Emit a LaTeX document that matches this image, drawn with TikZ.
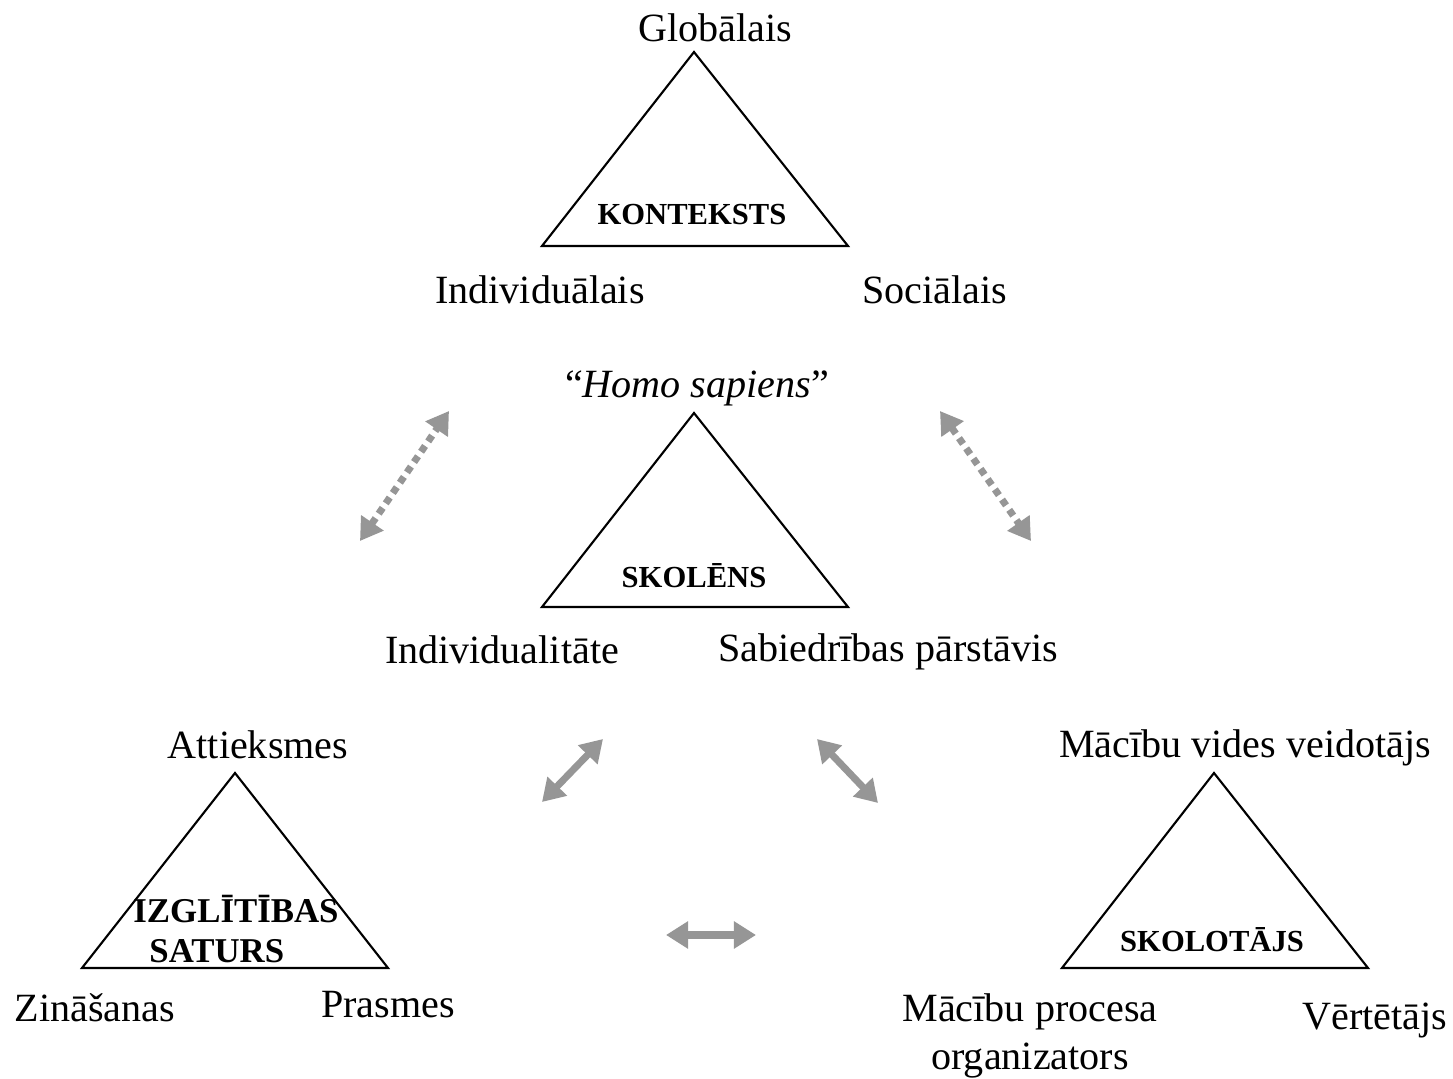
\documentclass[tikz,border=0pt]{standalone}
\usepackage{fontspec}
\setmainfont{Liberation Serif}
\usetikzlibrary{arrows.meta}
\definecolor{arrGray}{RGB}{150,150,150}

\begin{document}
\begin{tikzpicture}[x=0.01cm,y=-0.01cm,
  every node/.style={font=\fontsize{11.4}{13}\selectfont,align=center,inner sep=0pt},
  lbl/.style={font=\bfseries\fontsize{8.7}{10.5}\selectfont},
  tri/.style={draw,line width=0.6pt,line join=miter},
  link/.style={arrGray,line width=0.7mm,{Triangle[length=2.2mm,width=2.6mm]}-{Triangle[length=2.2mm,width=2.6mm]}},
  dotlink/.style={link,dash pattern=on 0.7mm off 0.55mm}]
\useasboundingbox (0,0) rectangle (1453,1079);
% context triangle
\coordinate (ka) at (694,52);
\coordinate (kl) at (542,246);
\coordinate (kr) at (848,246);
\draw[tri] (ka)--(kl)--(kr)--cycle;
\node (glob) at (715,28) {Globālais};
\node[lbl] (kont) at (692,215) {KONTEKSTS};
\node (indiv) at (540,290) {Individuālais};
\node (soc) at (935,290) {Sociālais};
% pupil triangle
\coordinate (sa) at (694,413);
\coordinate (sl) at (542,607);
\coordinate (sr) at (848,607);
\draw[tri] (sa)--(sl)--(sr)--cycle;
\node (homo) at (697,388) {``\textit{Homo sapiens}''};
\node[lbl] (skol) at (694,576) {SKOLĒNS};
\node (indl) at (502,650) {Individualitāte};
\node (sab) at (888,652) {Sabiedrības pārstāvis};
% content triangle
\coordinate (ia) at (235,773);
\coordinate (il) at (82,968);
\coordinate (ir) at (388,968);
\draw[tri] (ia)--(il)--(ir)--cycle;
\node (att) at (258,745) {Attieksmes};
\node[lbl,font=\bfseries\fontsize{9.9}{11.2}\selectfont,align=left] (izgl) at (236,929)
  {IZGLĪTĪBAS\\\hspace{0.16cm}SATURS};
\node (zin) at (95,1008) {Zināšanas};
\node (pras) at (388,1005) {Prasmes};
% teacher triangle
\coordinate (ta) at (1214,773);
\coordinate (tl) at (1062,968);
\coordinate (tr) at (1368,968);
\draw[tri] (ta)--(tl)--(tr)--cycle;
\node (vide) at (1245,748) {Mācību vides veidotājs};
\node[lbl] (skolot) at (1212,940) {SKOLOTĀJS};
\node[font=\fontsize{11.4}{13.6}\selectfont] (proc) at (1030,1036) {Mācību procesa\\organizators};
\node (vert) at (1375,1020) {Vērtētājs};
% links
\coordinate (d1a) at (360,541);
\coordinate (d1b) at (449,411);
\coordinate (d2a) at (940,411);
\coordinate (d2b) at (1031,541);
\coordinate (s1a) at (542,802);
\coordinate (s1b) at (603,739);
\coordinate (s2a) at (817,739);
\coordinate (s2b) at (878,803);
\coordinate (h1a) at (666,935);
\coordinate (h1b) at (756,935);
\draw[dotlink] (d1a)--(d1b);
\draw[dotlink] (d2a)--(d2b);
\draw[link] (s1a)--(s1b);
\draw[link] (s2a)--(s2b);
\draw[link] (h1a)--(h1b);
\end{tikzpicture}
\end{document}
